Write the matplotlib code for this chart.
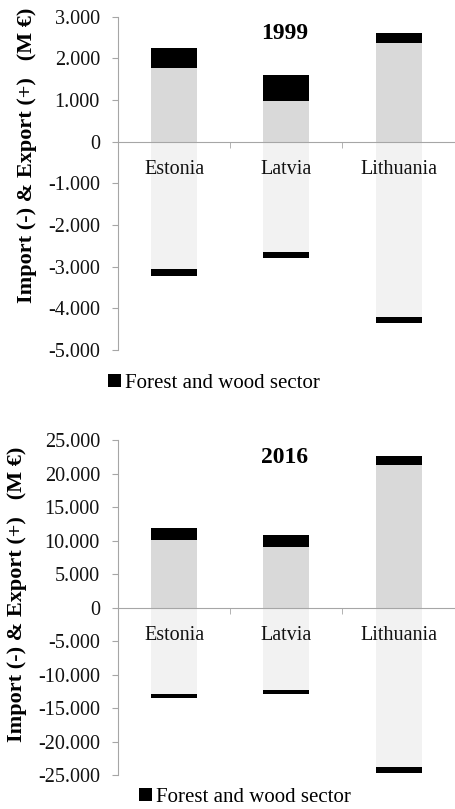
import numpy as np
import matplotlib as mpl
mpl.use('Agg')
import matplotlib.pyplot as plt
from matplotlib.ticker import FuncFormatter, FixedLocator

plt.rcParams['font.family'] = ['Liberation Serif', 'DejaVu Serif']

countries = ['Estonia', 'Latvia', 'Lithuania']

# 1999, M EUR
exp_other_1999 = [1760, 985, 2360]
exp_forest_1999 = [495, 615, 240]
imp_other_1999 = [-3060, -2655, -4200]
imp_forest_1999 = [-160, -130, -145]

# 2016, M EUR
exp_other_2016 = [10100, 9000, 21250]
exp_forest_2016 = [1750, 1900, 1350]
imp_other_2016 = [-12900, -12250, -23800]
imp_forest_2016 = [-620, -680, -900]

yticks_1999 = [3000, 2000, 1000, 0, -1000, -2000, -3000, -4000, -5000]
yticks_2016 = [25000, 20000, 15000, 10000, 5000, 0, -5000, -10000, -15000, -20000, -25000]

GREY = '#d9d9d9'
LIGHT = '#f2f2f2'
AXC = '#a6a6a6'


def fmt(v, pos):
    s = '{:,.0f}'.format(abs(v)).replace(',', '.')
    return ('-' + s) if v < 0 else s


def panel(ax, eo, ef, io, imf, yt, title):
    x = np.arange(len(countries))
    w = 0.41
    ax.bar(x, eo, w, color=GREY, zorder=2)
    fb = ax.bar(x, ef, w, bottom=eo, color='black', zorder=2,
                label='Forest and wood sector')
    ax.bar(x, io, w, color=LIGHT, zorder=2)
    ax.bar(x, imf, w, bottom=io, color='black', zorder=2)
    ax.set_axisbelow(False)
    ax.set_xlim(-0.5, 2.5)
    ax.set_ylim(min(yt), max(yt))
    ax.set_yticks(yt)
    ax.yaxis.set_major_formatter(FuncFormatter(fmt))
    for s in ['top', 'right']:
        ax.spines[s].set_visible(False)
    ax.spines['bottom'].set_position(('data', 0))
    ax.spines['bottom'].set_color(AXC)
    ax.spines['left'].set_color(AXC)
    ax.set_xticks(x)
    ax.set_xticklabels(countries)
    ax.tick_params(axis='x', length=0, pad=13, labelsize=14.5, labelcolor='#111111')
    ax.xaxis.set_minor_locator(FixedLocator([0.5, 1.5]))
    ax.tick_params(axis='x', which='minor', length=4, color=AXC, direction='out')
    ax.tick_params(axis='y', length=4, color=AXC, labelsize=14.5, pad=9,
                   labelcolor='#111111')
    ax.text(0.495, 0.948, title, transform=ax.transAxes, ha='center', va='center',
            fontsize=17, fontweight='bold')
    return fb


fig = plt.figure(figsize=(4.55, 8.09), dpi=100)
ax1 = fig.add_axes([0.2593, 0.5674, 0.74, 0.412])
ax2 = fig.add_axes([0.2593, 0.042, 0.74, 0.414])

h1 = panel(ax1, exp_other_1999, exp_forest_1999, imp_other_1999, imp_forest_1999,
           yticks_1999, '1999')
h2 = panel(ax2, exp_other_2016, exp_forest_2016, imp_other_2016, imp_forest_2016,
           yticks_2016, '2016')

ylab = 'Import (-) & Export (+)   (M \u20ac)'
fig.text(27 / 455, 1 - 155 / 809, ylab, rotation=90, ha='center', va='center',
         fontsize=16, fontweight='bold')
fig.text(17 / 455, 1 - 594 / 809, ylab, rotation=90, ha='center', va='center',
         fontsize=16, fontweight='bold')

leg_kw = dict(frameon=False, fontsize=15, handlelength=0.6, handleheight=0.6,
              handletextpad=0.2, loc='center', borderaxespad=0)
fig.legend(handles=[h1], bbox_transform=fig.transFigure,
           bbox_to_anchor=(214 / 455, 1 - 383 / 809), **leg_kw)
fig.legend(handles=[h2], bbox_transform=fig.transFigure,
           bbox_to_anchor=(245 / 455, 1 - 797 / 809), **leg_kw)

plt.savefig('out.png', dpi=100)
